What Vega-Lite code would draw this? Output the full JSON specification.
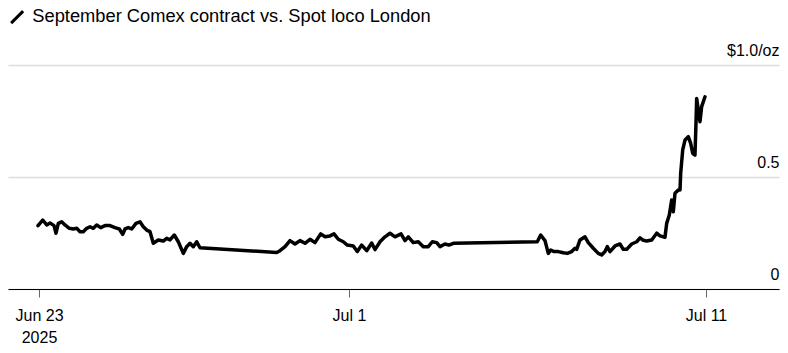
{
  "$schema": "https://vega.github.io/schema/vega-lite/v6.json",
  "width": 771,
  "height": 224,
  "autosize": {"type": "none"},
  "padding": {"left": 8, "top": 65, "right": 9, "bottom": 64},
  "background": "#ffffff",
  "config": {
    "view": {"stroke": null},
    "font": "Liberation Sans"
  },
  "data": {
    "values": [
      {"t": "2025-06-22T23:21", "v": 0.283},
      {"t": "2025-06-23T02:24", "v": 0.308},
      {"t": "2025-06-23T04:59", "v": 0.286},
      {"t": "2025-06-23T07:07", "v": 0.295},
      {"t": "2025-06-23T09:43", "v": 0.283},
      {"t": "2025-06-23T11:01", "v": 0.249},
      {"t": "2025-06-23T12:30", "v": 0.293},
      {"t": "2025-06-23T14:42", "v": 0.300},
      {"t": "2025-06-23T16:50", "v": 0.286},
      {"t": "2025-06-23T19:37", "v": 0.271},
      {"t": "2025-06-23T22:13", "v": 0.268},
      {"t": "2025-06-24T00:25", "v": 0.271},
      {"t": "2025-06-24T02:33", "v": 0.256},
      {"t": "2025-06-24T04:41", "v": 0.256},
      {"t": "2025-06-24T06:54", "v": 0.271},
      {"t": "2025-06-24T09:02", "v": 0.278},
      {"t": "2025-06-24T11:10", "v": 0.271},
      {"t": "2025-06-24T13:22", "v": 0.286},
      {"t": "2025-06-24T15:58", "v": 0.274},
      {"t": "2025-06-24T18:45", "v": 0.283},
      {"t": "2025-06-24T21:59", "v": 0.283},
      {"t": "2025-06-25T01:13", "v": 0.274},
      {"t": "2025-06-25T04:01", "v": 0.268},
      {"t": "2025-06-25T06:13", "v": 0.244},
      {"t": "2025-06-25T07:42", "v": 0.268},
      {"t": "2025-06-25T09:50", "v": 0.274},
      {"t": "2025-06-25T12:02", "v": 0.268},
      {"t": "2025-06-25T14:49", "v": 0.293},
      {"t": "2025-06-25T17:25", "v": 0.300},
      {"t": "2025-06-25T19:33", "v": 0.278},
      {"t": "2025-06-25T21:45", "v": 0.263},
      {"t": "2025-06-25T23:53", "v": 0.256},
      {"t": "2025-06-26T02:02", "v": 0.204},
      {"t": "2025-06-26T05:16", "v": 0.219},
      {"t": "2025-06-26T08:30", "v": 0.214},
      {"t": "2025-06-26T10:42", "v": 0.226},
      {"t": "2025-06-26T12:50", "v": 0.219},
      {"t": "2025-06-26T15:38", "v": 0.241},
      {"t": "2025-06-26T18:13", "v": 0.211},
      {"t": "2025-06-26T21:28", "v": 0.159},
      {"t": "2025-06-26T23:40", "v": 0.189},
      {"t": "2025-06-27T01:48", "v": 0.204},
      {"t": "2025-06-27T03:56", "v": 0.189},
      {"t": "2025-06-27T06:08", "v": 0.211},
      {"t": "2025-06-27T08:16", "v": 0.184},
      {"t": "2025-06-29T09:57", "v": 0.163},
      {"t": "2025-06-29T12:05", "v": 0.171},
      {"t": "2025-06-29T15:20", "v": 0.189},
      {"t": "2025-06-29T18:34", "v": 0.216},
      {"t": "2025-06-29T21:48", "v": 0.201},
      {"t": "2025-06-30T01:02", "v": 0.216},
      {"t": "2025-06-30T04:17", "v": 0.204},
      {"t": "2025-06-30T07:31", "v": 0.222},
      {"t": "2025-06-30T10:45", "v": 0.207},
      {"t": "2025-06-30T14:27", "v": 0.246},
      {"t": "2025-06-30T17:14", "v": 0.233},
      {"t": "2025-06-30T20:28", "v": 0.237},
      {"t": "2025-06-30T23:04", "v": 0.246},
      {"t": "2025-07-01T01:51", "v": 0.222},
      {"t": "2025-07-01T05:05", "v": 0.211},
      {"t": "2025-07-01T07:41", "v": 0.196},
      {"t": "2025-07-01T11:34", "v": 0.192},
      {"t": "2025-07-01T14:09", "v": 0.167},
      {"t": "2025-07-01T17:00", "v": 0.196},
      {"t": "2025-07-01T20:14", "v": 0.171},
      {"t": "2025-07-01T23:29", "v": 0.205},
      {"t": "2025-07-02T01:37", "v": 0.176},
      {"t": "2025-07-02T04:52", "v": 0.211},
      {"t": "2025-07-02T08:05", "v": 0.233},
      {"t": "2025-07-02T11:20", "v": 0.249},
      {"t": "2025-07-02T14:34", "v": 0.233},
      {"t": "2025-07-02T18:28", "v": 0.246},
      {"t": "2025-07-02T21:03", "v": 0.216},
      {"t": "2025-07-02T23:11", "v": 0.233},
      {"t": "2025-07-03T02:25", "v": 0.207},
      {"t": "2025-07-03T05:40", "v": 0.211},
      {"t": "2025-07-03T08:54", "v": 0.189},
      {"t": "2025-07-03T12:08", "v": 0.189},
      {"t": "2025-07-03T14:44", "v": 0.211},
      {"t": "2025-07-03T17:35", "v": 0.207},
      {"t": "2025-07-03T19:43", "v": 0.189},
      {"t": "2025-07-03T22:57", "v": 0.201},
      {"t": "2025-07-04T01:32", "v": 0.196},
      {"t": "2025-07-04T04:20", "v": 0.204},
      {"t": "2025-07-06T10:44", "v": 0.211},
      {"t": "2025-07-06T12:56", "v": 0.241},
      {"t": "2025-07-06T15:43", "v": 0.216},
      {"t": "2025-07-06T17:52", "v": 0.159},
      {"t": "2025-07-06T19:25", "v": 0.174},
      {"t": "2025-07-06T21:33", "v": 0.167},
      {"t": "2025-07-07T00:20", "v": 0.167},
      {"t": "2025-07-07T03:34", "v": 0.162},
      {"t": "2025-07-07T06:10", "v": 0.159},
      {"t": "2025-07-07T09:01", "v": 0.167},
      {"t": "2025-07-07T11:09", "v": 0.182},
      {"t": "2025-07-07T12:15", "v": 0.177},
      {"t": "2025-07-07T14:23", "v": 0.219},
      {"t": "2025-07-07T17:38", "v": 0.233},
      {"t": "2025-07-07T19:46", "v": 0.207},
      {"t": "2025-07-07T23:00", "v": 0.182},
      {"t": "2025-07-08T02:14", "v": 0.159},
      {"t": "2025-07-08T04:26", "v": 0.152},
      {"t": "2025-07-08T06:35", "v": 0.167},
      {"t": "2025-07-08T08:04", "v": 0.189},
      {"t": "2025-07-08T09:49", "v": 0.167},
      {"t": "2025-07-08T13:04", "v": 0.192},
      {"t": "2025-07-08T16:18", "v": 0.201},
      {"t": "2025-07-08T18:26", "v": 0.177},
      {"t": "2025-07-08T20:38", "v": 0.177},
      {"t": "2025-07-08T23:52", "v": 0.201},
      {"t": "2025-07-09T03:07", "v": 0.211},
      {"t": "2025-07-09T05:15", "v": 0.228},
      {"t": "2025-07-09T07:00", "v": 0.219},
      {"t": "2025-07-09T09:35", "v": 0.214},
      {"t": "2025-07-09T12:50", "v": 0.219},
      {"t": "2025-07-09T16:04", "v": 0.249},
      {"t": "2025-07-09T18:12", "v": 0.237},
      {"t": "2025-07-09T21:26", "v": 0.231},
      {"t": "2025-07-09T22:32", "v": 0.293},
      {"t": "2025-07-10T00:14", "v": 0.330},
      {"t": "2025-07-10T01:47", "v": 0.397},
      {"t": "2025-07-10T02:49", "v": 0.345},
      {"t": "2025-07-10T03:55", "v": 0.427},
      {"t": "2025-07-10T06:04", "v": 0.442},
      {"t": "2025-07-10T07:10", "v": 0.442},
      {"t": "2025-07-10T07:37", "v": 0.517},
      {"t": "2025-07-10T08:55", "v": 0.621},
      {"t": "2025-07-10T10:24", "v": 0.665},
      {"t": "2025-07-10T12:32", "v": 0.680},
      {"t": "2025-07-10T14:05", "v": 0.650},
      {"t": "2025-07-10T15:23", "v": 0.606},
      {"t": "2025-07-10T16:52", "v": 0.598},
      {"t": "2025-07-10T17:31", "v": 0.740},
      {"t": "2025-07-10T17:58", "v": 0.851},
      {"t": "2025-07-10T19:01", "v": 0.799},
      {"t": "2025-07-10T20:07", "v": 0.747},
      {"t": "2025-07-10T21:11", "v": 0.814},
      {"t": "2025-07-10T23:21", "v": 0.858}
    ]
  },
  "mark": {"type": "line", "strokeWidth": 3.5, "strokeJoin": "round", "strokeCap": "round"},
  "encoding": {
    "x": {
      "field": "t",
      "type": "temporal",
      "scale": {
        "domain": [
          {"year": 2025, "month": "Jun", "date": 22, "hours": 3, "minutes": 55},
          {"year": 2025, "month": "Jul", "date": 12, "hours": 23, "minutes": 17}
        ]
      },
      "axis": {
        "title": null,
        "values": [
          {"year": 2025, "month": "Jun", "date": 23, "hours": 0, "minutes": 0},
          {"year": 2025, "month": "Jul", "date": 1, "hours": 8, "minutes": 47},
          {"year": 2025, "month": "Jul", "date": 11, "hours": 0, "minutes": 0}
        ],
        "labelExpr": "month(datum.value) == 5 ? ['Jun 23', '2025'] : timeFormat(datum.value, '%b %-d')",
        "grid": false,
        "domain": true,
        "domainColor": "#000000",
        "domainWidth": 1,
        "ticks": true,
        "tickColor": "#666666",
        "tickSize": 8,
        "tickWidth": 1,
        "labelFont": "Liberation Sans",
        "labelFontSize": 16,
        "labelColor": "#000000",
        "labelPadding": 10,
        "labelLineHeight": 22,
        "labelOverlap": false,
        "labelFlush": false,
        "labelBound": false,
        "zindex": 1
      }
    },
    "y": {
      "field": "v",
      "type": "quantitative",
      "scale": {"domain": [0, 1], "nice": false},
      "axis": {
        "title": null,
        "orient": "right",
        "values": [0, 0.5, 1],
        "labelExpr": "datum.value == 1 ? '$1.0/oz' : (datum.value == 0 ? '0' : '0.5')",
        "domain": false,
        "ticks": false,
        "tickSize": 0,
        "grid": true,
        "gridColor": "#dddddd",
        "gridWidth": 1.5,
        "labelAlign": "right",
        "labelBaseline": "alphabetic",
        "labelOffset": -10,
        "labelPadding": 0,
        "labelFont": "Liberation Sans",
        "labelFontSize": 16,
        "labelColor": "#000000",
        "labelOverlap": false,
        "labelFlush": false,
        "labelBound": false
      }
    },
    "color": {
      "datum": "September Comex contract vs. Spot loco London",
      "scale": {"range": ["#000000"]},
      "legend": {
        "title": null,
        "orient": "none",
        "legendX": 0,
        "legendY": -57,
        "padding": 0,
        "symbolType": "M-1,1L1,-1",
        "symbolSize": 144,
        "symbolStrokeWidth": 3,
        "symbolStrokeColor": "#000000",
        "labelFont": "Liberation Sans",
        "labelFontSize": 18.3,
        "labelColor": "#000000",
        "labelOffset": 6,
        "labelLimit": 600
      }
    }
  }
}
